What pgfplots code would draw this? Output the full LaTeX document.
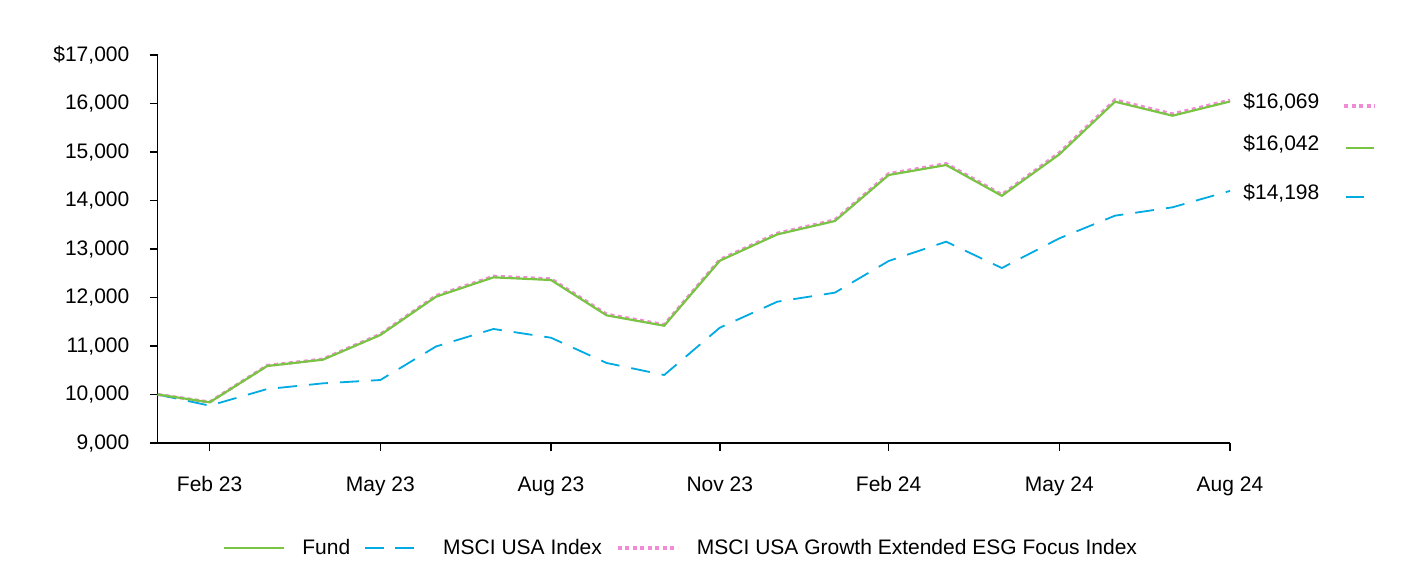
\documentclass[border=0pt]{standalone}
\usepackage{pgfplots}
\pgfplotsset{compat=1.18}
\usepackage{fontspec}
\setmainfont{Liberation Sans}
\definecolor{fundgreen}{RGB}{122,196,68}
\definecolor{msciblue}{RGB}{0,170,226}
\definecolor{esgpink}{RGB}{240,140,214}
\newcommand{\chartfont}{\fontsize{10.5pt}{12.5pt}\selectfont}
\begin{document}
\begin{tikzpicture}
\chartfont
\path[use as bounding box] (-78.85pt,-60.5pt) rectangle (629.15pt,221.5pt);
\begin{axis}[
  at={(0pt,0pt)}, anchor=south west,
  scale only axis,
  width=536.15pt, height=194pt,
  xmin=0, xmax=578, ymin=9000, ymax=17000,
  enlargelimits=false,
  clip=false,
  scaled y ticks=false,
  axis x line*=bottom, axis y line*=left,
  axis line style={-, line width=0.7pt, black},
  tick style={line width=0.7pt, black},
  tick align=outside,
  major tick length=4pt,
  xtick={28,120,212,303,394,486,578},
  xticklabels={Feb 23,May 23,Aug 23,Nov 23,Feb 24,May 24,Aug 24},
  ytick={9000,10000,11000,12000,13000,14000,15000,16000,17000},
  yticklabels={{9,000},{10,000},{11,000},{12,000},{13,000},{14,000},{15,000},{16,000},{\$17,000}},
  xticklabel style={font=\chartfont, anchor=north, yshift=-9pt},
  yticklabel style={font=\chartfont, anchor=east, xshift=-6.5pt},
  legend columns=3,
  legend style={draw=none, at={(0.489,-0.2706)}, anchor=center,
    font=\chartfont,
    /tikz/every odd column/.append style={column sep=6.5pt},
    /tikz/every even column/.append style={column sep=5pt}},
  legend image code/.code={\draw[#1] (0pt,0pt) -- (30pt,0pt);},
]
\addplot[esgpink, line width=1.6pt, dash pattern=on 2pt off 1.75pt, forget plot] coordinates {
(0,10000) (28,9845) (59,10598) (89,10730) (120,11243) (150,12036) (181,12438) (212,12384) (242,11655) (273,11440) (303,12780) (334,13325) (365,13600) (394,14553) (425,14760) (455,14122) (486,14985) (516,16075) (547,15785) (578,16069)};
\addplot[msciblue, line width=0.9pt, dash pattern=on 9.5pt off 6pt, forget plot] coordinates {
(0,10000) (28,9770) (59,10113) (89,10230) (120,10299) (150,10990) (181,11351) (212,11171) (242,10650) (273,10402) (303,11378) (334,11914) (365,12100) (394,12753) (425,13151) (455,12608) (486,13220) (516,13687) (547,13860) (578,14198)};
\addplot[fundgreen, line width=1.1pt, forget plot] coordinates {
(0,10000) (28,9839) (59,10588) (89,10718) (120,11227) (150,12017) (181,12416) (212,12361) (242,11632) (273,11419) (303,12759) (334,13302) (365,13577) (394,14526) (425,14732) (455,14097) (486,14952) (516,16038) (547,15749) (578,16042)};
\addlegendimage{fundgreen, line width=1.1pt}
\addlegendentry{Fund}
\addlegendimage{msciblue, line width=1pt, dash pattern=on 9.5pt off 5.5pt}
\addlegendentry{MSCI USA Index}
\addlegendimage{esgpink, line width=2pt, dash pattern=on 2pt off 1.75pt}
\addlegendentry{MSCI USA Growth Extended ESG Focus Index}
\node[anchor=west, inner sep=0pt, xshift=6.5pt] at (axis cs:578,16040) {\$16,069};
\node[anchor=west, inner sep=0pt, xshift=6.5pt] at (axis cs:578,15170) {\$16,042};
\node[anchor=west, inner sep=0pt, xshift=6.5pt] at (axis cs:578,14160) {\$14,198};
\draw[esgpink, line width=2pt, dash pattern=on 2pt off 1.75pt] (rel axis cs:1.1063,0.8692) -- (rel axis cs:1.1343,0.8692);
\draw[fundgreen, line width=1.1pt] (rel axis cs:1.1077,0.7609) -- (rel axis cs:1.1338,0.7609);
\draw[msciblue, line width=1pt] (rel axis cs:1.1077,0.6347) -- (rel axis cs:1.1254,0.6347);
\end{axis}
\end{tikzpicture}
\end{document}
